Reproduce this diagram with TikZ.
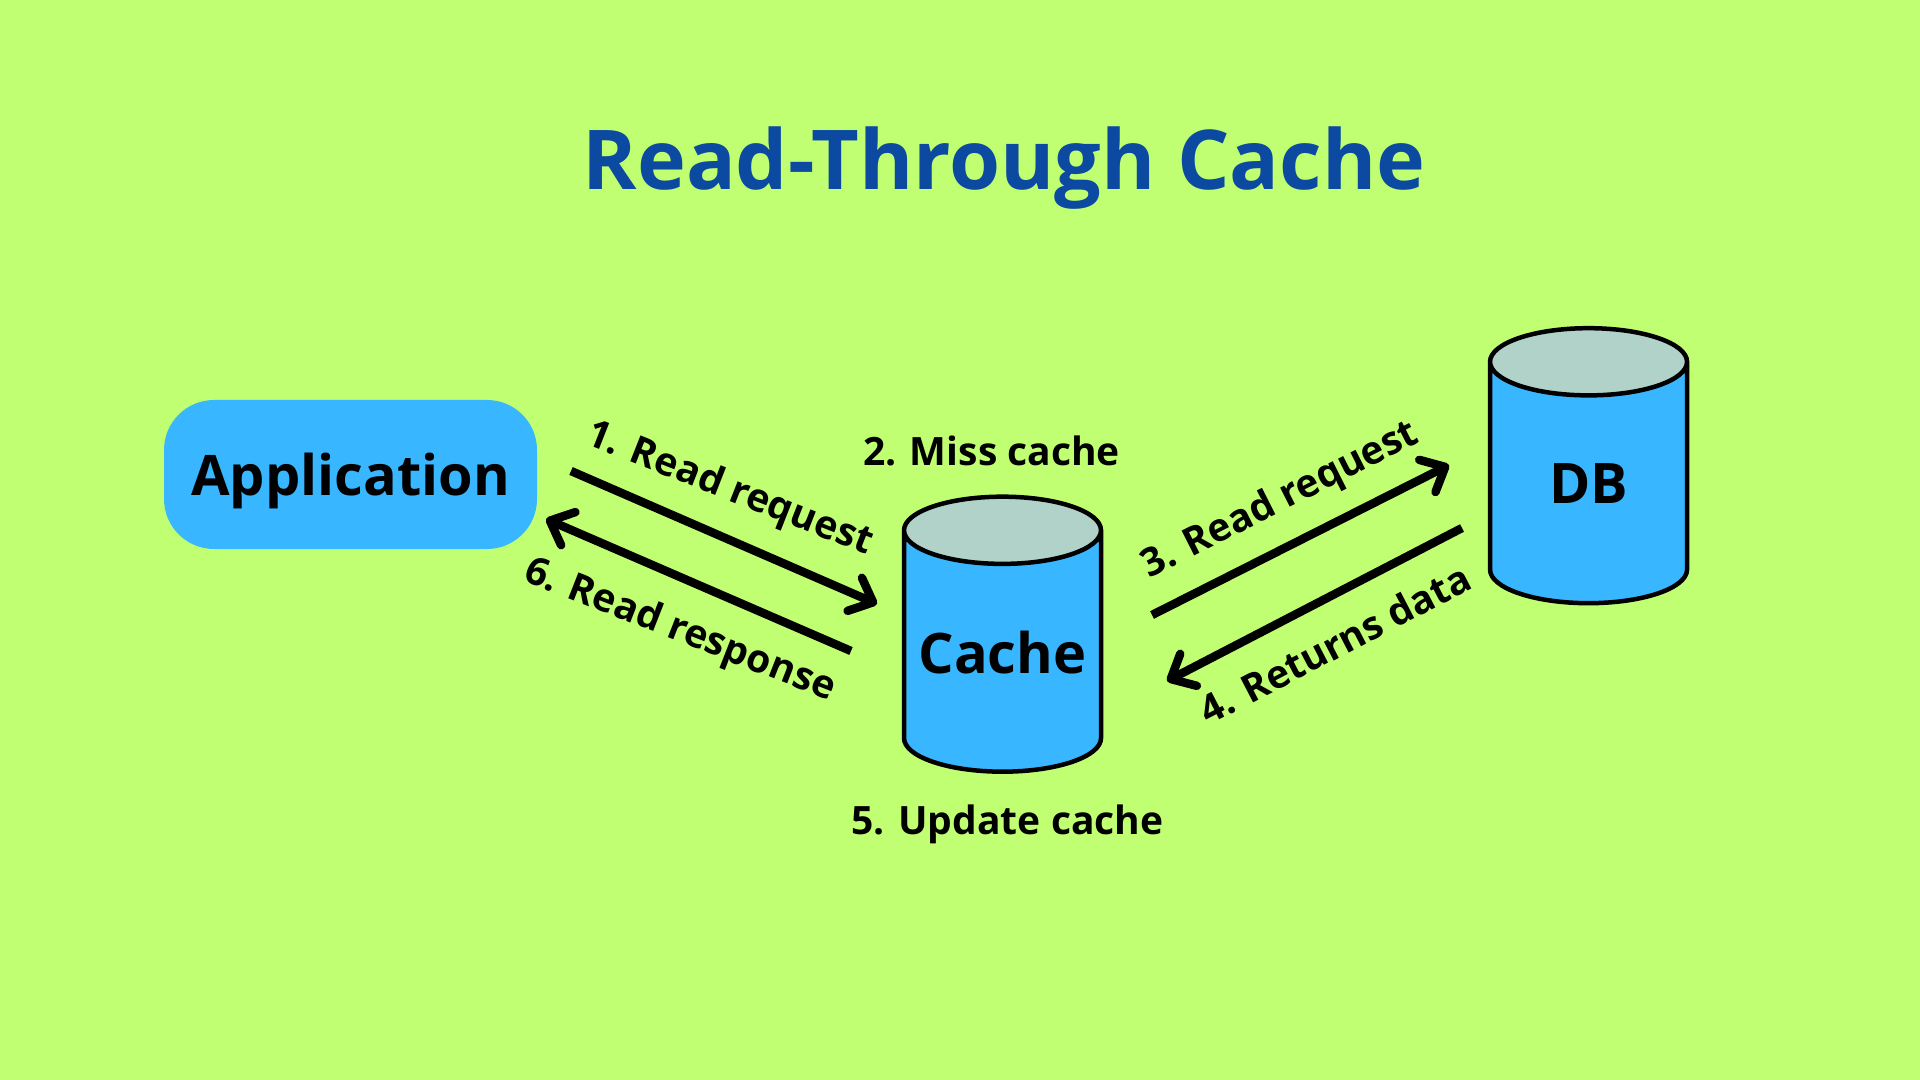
\documentclass[tikz,border=0pt]{standalone}
\usepackage{fontspec}
\setmainfont{Open Sans}[BoldFont={Open Sans Bold}]
\usetikzlibrary{positioning,shapes.geometric,arrows.meta}
\definecolor{pagegreen}{HTML}{C1FF72}
\definecolor{boxblue}{HTML}{38B6FF}
\definecolor{topgrey}{HTML}{B0D2C8}
\definecolor{titleblue}{HTML}{0B4AA0}
\tikzset{
  appbox/.style={fill=boxblue, rounded corners=0.5cm, minimum width=3.73cm, minimum height=1.49cm, text depth=0pt, inner sep=0pt, outer sep=0pt, font=\fontsize{15.9}{18}\selectfont\bfseries},
  store/.style={cylinder, shape border rotate=90, draw=black, line width=0.045cm, aspect=0.4, cylinder uses custom fill, cylinder body fill=boxblue, cylinder end fill=topgrey, minimum width=1.97cm, minimum height=2.75cm, text width=1.68cm, align=center, inner sep=0pt, outer sep=0pt, font=\fontsize{15.9}{18}\selectfont\bfseries},
  step label/.style={font=\fontsize{11.1}{13}\selectfont\bfseries, inner sep=0pt},
  flow/.style={line width=0.085cm, -{Straight Barb[length=0.2cm,width=0.36cm,round]}},
}
\begin{document}
\begin{tikzpicture}
    \fill[pagegreen] (0,0) rectangle (19.2,-10.8);
    \node[font=\fontsize{23.5}{28}\selectfont\bfseries, text=titleblue](title) at (10.04,-1.68){Read-Through Cache};
    \node[appbox](app) at (3.505,-4.745){Application};
    \node[store, right=3.67cm of app, yshift=-1.776cm](cache){Cache};
    \node[store, right=3.89cm of cache, yshift=1.685cm](db){DB};
    \node[step label, above=0.30cm of cache, xshift=-0.11cm](miss){2. Miss cache};
    \node[step label, below=0.32cm of cache, xshift=0.05cm](update){5. Update cache};
    \coordinate (a1) at (5.71,-4.71);
    \coordinate (b1) at (8.77,-6.04);
    \coordinate (a6) at (8.51,-6.51);
    \coordinate (b6) at (5.46,-5.19);
    \coordinate (a3) at (11.52,-6.15);
    \coordinate (b3) at (14.49,-4.65);
    \coordinate (a4) at (14.62,-5.28);
    \coordinate (b4) at (11.67,-6.81);
    \draw[flow] (a1) --node[step label, sloped, rotate=2, above=0.22cm, pos=0.46]{1. Read request} (b1);
    \draw[flow] (a6) --node[step label, sloped, rotate=2, below=0.26cm]{6. Read response} (b6);
    \draw[flow] (a3) --node[step label, sloped, above=0.2cm]{3. Read request} (b3);
    \draw[flow] (a4) --node[step label, sloped, below=0.25cm]{4. Returns data} (b4);
\end{tikzpicture}
\end{document}
